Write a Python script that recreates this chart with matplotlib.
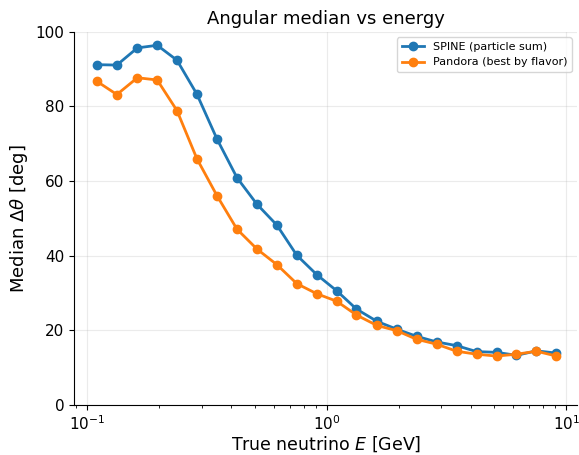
import numpy as np
import matplotlib
matplotlib.use("Agg")
import matplotlib.pyplot as plt

# bin centres [GeV]
energy = [0.110, 0.133, 0.162, 0.196, 0.237, 0.287, 0.348, 0.422, 0.511, 0.619,
          0.750, 0.909, 1.10, 1.33, 1.62, 1.96, 2.37, 2.87, 3.48, 4.22,
          5.11, 6.19, 7.50, 9.09]

spine_med = [91.2, 91.1, 95.7, 96.4, 92.4, 83.3, 71.3, 60.9, 53.8, 48.2,
             40.1, 34.9, 30.6, 25.7, 22.4, 20.3, 18.4, 16.9, 15.9, 14.3,
             14.1, 13.3, 14.5, 13.9]
pandora_med = [86.7, 83.2, 87.7, 87.1, 78.9, 66.0, 56.1, 47.1, 41.8, 37.6,
               32.5, 29.8, 27.8, 24.1, 21.3, 19.9, 17.6, 16.3, 14.4, 13.6,
               13.1, 13.6, 14.4, 13.1]

fig = plt.figure(figsize=(5.79, 4.55), dpi=100)
ax = fig.add_axes([0.128, 0.110, 0.869, 0.820])

ax.plot(energy, spine_med, "-o", color="#1f77b4", lw=2, ms=6, label="SPINE (particle sum)")
ax.plot(energy, pandora_med, "-o", color="#ff7f0e", lw=2, ms=6, label="Pandora (best by flavor)")

ax.set_xscale("log")
ax.set_xlim(0.0882, 11.1)
ax.set_ylim(0, 100)
ax.grid(True, alpha=0.25)
ax.spines["top"].set_visible(False)
ax.spines["right"].set_visible(False)
ax.tick_params(labelsize=11)

ax.set_xlabel("True neutrino $E$ [GeV]", fontsize=12.5, labelpad=1)
ax.set_ylabel(r"Median $\Delta\theta$ [deg]", fontsize=13)
ax.set_title("Angular median vs energy", fontsize=13)
ax.legend(fontsize=8, loc="upper right")

fig.savefig("out.png", dpi=100)
